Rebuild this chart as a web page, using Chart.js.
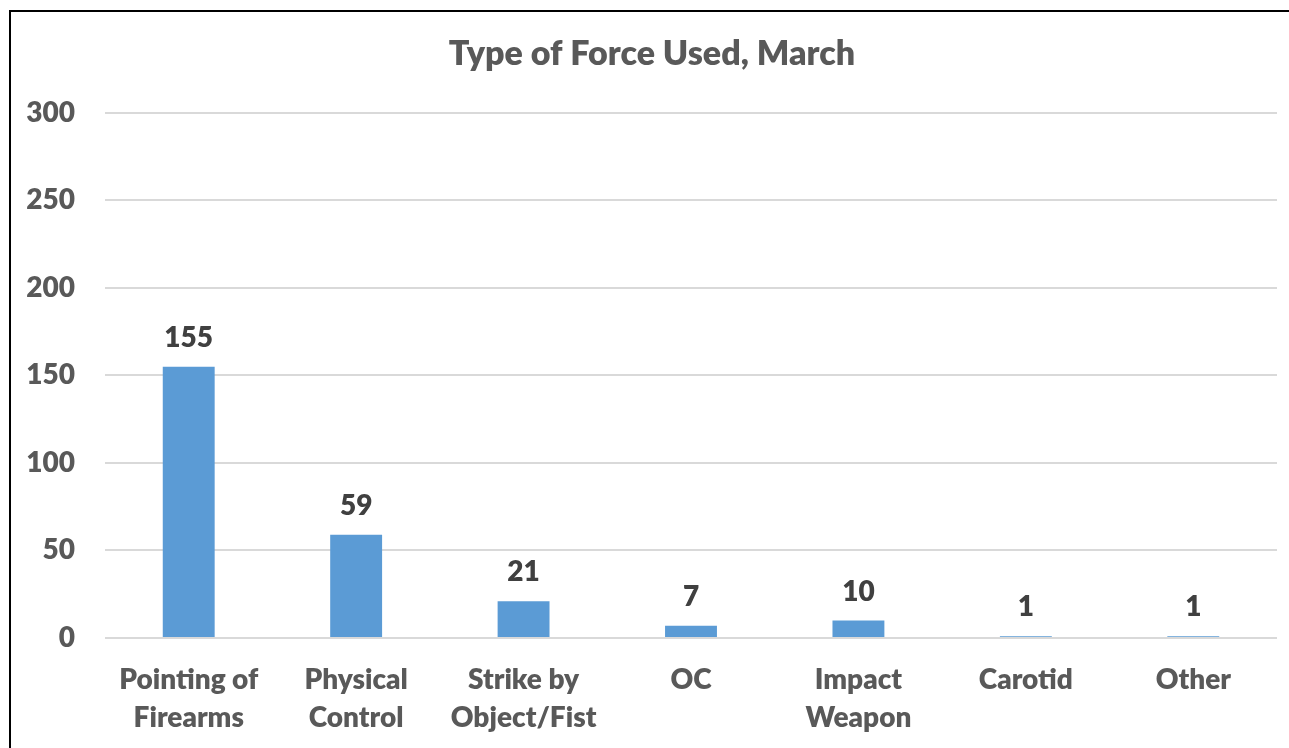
<!DOCTYPE html>
<html>
<head>
<meta charset="utf-8">
<script src="https://cdn.jsdelivr.net/npm/chart.js@4"></script>
<style>
  html, body { margin: 0; padding: 0; background: #ffffff; overflow: hidden; }
  #wrap { position: relative; width: 1289px; height: 748px; }
  #frame { position: absolute; left: 9px; top: 10px; width: 1300px; height: 760px;
           border-left: 2px solid #000; border-top: 2px solid #000; pointer-events: none; }
</style>
</head>
<body>
<div id="wrap">
  <canvas id="c" width="1289" height="748"></canvas>
  <div id="frame"></div>
</div>
<script>
const title = 'Type of Force Used, March';
const categories = [
  ['Pointing of', 'Firearms'],
  ['Physical', 'Control'],
  ['Strike by', 'Object/Fist'],
  'OC',
  ['Impact', 'Weapon'],
  'Carotid',
  'Other'
];
const counts = [155, 59, 21, 7, 10, 1, 1];
const yTicks = [0, 50, 100, 150, 200, 250, 300];

const FONT = 'Lato, "Open Sans", sans-serif';
const WEIGHT = 800;

const valueLabels = {
  id: 'valueLabels',
  afterDatasetsDraw(chart) {
    const ctx = chart.ctx;
    const meta = chart.getDatasetMeta(0);
    ctx.save();
    ctx.font = WEIGHT + ' 28px ' + FONT;
    ctx.fillStyle = '#404040';
    ctx.textAlign = 'center';
    ctx.textBaseline = 'middle';
    meta.data.forEach((bar, i) => {
      ctx.fillText(String(counts[i]), bar.x, bar.y - 29);
    });
    ctx.restore();
  }
};

new Chart(document.getElementById('c'), {
  type: 'bar',
  data: {
    labels: categories,
    datasets: [{
      data: counts,
      backgroundColor: '#5b9bd5',
      borderWidth: 0,
      categoryPercentage: 1,
      barPercentage: 0.31
    }]
  },
  options: {
    responsive: false,
    animation: false,
    layout: { autoPadding: false, padding: { left: 27, right: 12, top: 0, bottom: 11 } },
    plugins: {
      legend: { display: false },
      tooltip: { enabled: false },
      title: {
        display: true,
        text: title,
        color: '#595959',
        font: { family: FONT, size: 34, weight: WEIGHT, lineHeight: 1.2 },
        padding: { top: 34, bottom: 38 }
      }
    },
    scales: {
      x: {
        afterFit(axis) { axis.height = 99; },
        grid: { display: false, drawTicks: false },
        border: { display: false },
        ticks: {
          color: '#595959',
          font: { family: FONT, size: 28, weight: WEIGHT, lineHeight: 1.357 },
          padding: 23,
          maxRotation: 0,
          autoSkip: false
        }
      },
      y: {
        min: 0,
        max: 300,
        afterFit(axis) { axis.width = 78; },
        afterBuildTicks(axis) { axis.ticks = yTicks.map(v => ({ value: v })); },
        grid: { color: '#d9d9d9', lineWidth: 2, drawTicks: false },
        border: { display: false },
        ticks: {
          color: '#595959',
          font: { family: FONT, size: 28, weight: WEIGHT },
          padding: 30
        }
      }
    }
  },
  plugins: [valueLabels]
});
</script>
</body>
</html>
